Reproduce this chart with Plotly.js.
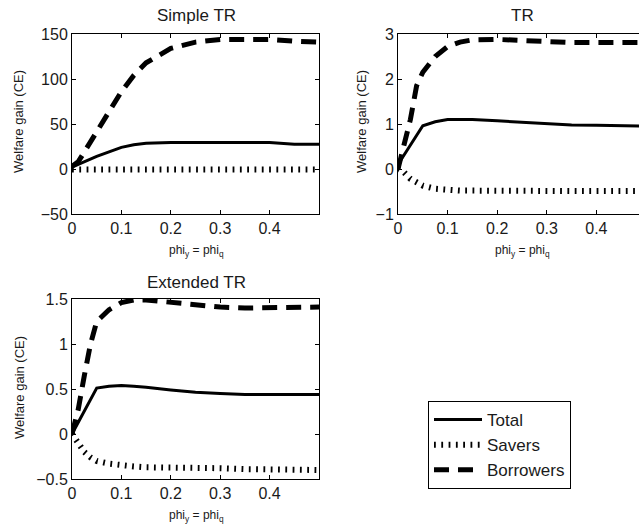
<!DOCTYPE html>
<html>
<head>
<meta charset="utf-8">
<script src="https://cdn.plot.ly/plotly-3.0.1.min.js"></script>
<style>
html,body{margin:0;padding:0;overflow:hidden;background:#fff;width:639px;height:529px;}
#chart{width:648px;height:529px;}
</style>
</head>
<body>
<div id="chart"></div>
<script>
// Shared x grid (phi_y = phi_q)
const phi = [0, 0.0125, 0.025, 0.0375, 0.05, 0.075, 0.1, 0.125, 0.15, 0.2, 0.25, 0.3, 0.35, 0.4, 0.45, 0.5];

// Simple TR
const simpleTotal     = [2, 5, 8, 11, 14, 19, 24, 27, 28.5, 29.5, 29.5, 29.5, 29.5, 29.5, 27.5, 27.5];
const simpleSavers    = [-0.5, -0.5, -0.5, -0.5, -0.5, -0.5, -0.5, -0.5, -0.5, -0.5, -0.5, -0.5, -0.5, -0.5, -0.5, -0.5];
const simpleBorrowers = [3, 8, 19, 30, 40, 63, 86, 104, 118, 134, 141, 144, 144, 144, 142, 141];

// TR
const trTotal     = [0.1, 0.31, 0.53, 0.74, 0.96, 1.05, 1.1, 1.1, 1.1, 1.07, 1.04, 1.02, 0.98, 0.97, 0.96, 0.95];
const trSavers    = [0, -0.08, -0.22, -0.31, -0.37, -0.44, -0.47, -0.48, -0.48, -0.49, -0.49, -0.49, -0.49, -0.49, -0.49, -0.49];
const trBorrowers = [0, 0.5, 1.1, 1.85, 2.15, 2.5, 2.72, 2.82, 2.87, 2.88, 2.86, 2.82, 2.81, 2.81, 2.81, 2.81];

// Extended TR
const extTotal     = [0, 0.13, 0.26, 0.39, 0.51, 0.53, 0.54, 0.53, 0.52, 0.49, 0.465, 0.45, 0.44, 0.44, 0.44, 0.44];
const extSavers    = [0, -0.1, -0.2, -0.26, -0.3, -0.33, -0.35, -0.36, -0.37, -0.37, -0.38, -0.38, -0.39, -0.39, -0.4, -0.4];
const extBorrowers = [0, 0.27, 0.65, 1.0, 1.25, 1.38, 1.46, 1.49, 1.49, 1.46, 1.43, 1.41, 1.4, 1.4, 1.4, 1.41];

// Ticks
const xTicks = [0, 0.1, 0.2, 0.3, 0.4];
const yTicks1 = [-50, 0, 50, 100, 150];
const yTicks2 = [-1, 0, 1, 2, 3];
const yTicks3 = [-0.5, 0, 0.5, 1, 1.5];

const names = ['Total', 'Savers', 'Borrowers'];
const panelTitles = ['Simple TR', 'TR', 'Extended TR'];
const xTitle = 'phi<sub>y</sub> = phi<sub>q</sub>';
const yTitle = 'Welfare gain (CE)';

const W = 648, H = 529;
const styles = [
  {color: '#000', width: 3, dash: 'solid'},
  {color: '#000', width: 6, dash: '1.8px,5.5px'},
  {color: '#000', width: 5, dash: '15px,9px'}
];

const panels = [
  {series: [simpleTotal, simpleSavers, simpleBorrowers], xa: 'x', ya: 'y'},
  {series: [trTotal, trSavers, trBorrowers], xa: 'x2', ya: 'y2'},
  {series: [extTotal, extSavers, extBorrowers], xa: 'x3', ya: 'y3'}
];

const traces = [];
panels.forEach((p, pi) => {
  p.series.forEach((s, si) => {
    traces.push({
      x: phi, y: s, type: 'scatter', mode: 'lines',
      name: names[si], legendgroup: names[si],
      showlegend: pi === 0,
      xaxis: p.xa, yaxis: p.ya,
      line: styles[si]
    });
  });
});

const font = 'Liberation Sans, Arial, sans-serif';
function xAxis(l, r, anchor) {
  return {
    domain: [l / W, r / W], range: [0, 0.5], anchor: anchor,
    tickvals: xTicks, ticks: 'inside', ticklen: 4, tickcolor: '#000',
    showline: true, linecolor: '#000', linewidth: 1, mirror: 'ticks',
    showgrid: false, zeroline: false,
    tickfont: {family: font, size: 16, color: '#1a1a1a'}
  };
}
function yAxis(t, b, range, ticks, anchor) {
  return {
    domain: [1 - b / H, 1 - t / H], range: range, anchor: anchor,
    tickvals: ticks, ticks: 'inside', ticklen: 4, tickcolor: '#000',
    showline: true, linecolor: '#000', linewidth: 1, mirror: 'ticks',
    showgrid: false, zeroline: false,
    tickfont: {family: font, size: 16, color: '#1a1a1a'}
  };
}

function ann(text, xpx, ypx, size, angle) {
  return {
    text: text, xref: 'paper', yref: 'paper',
    x: xpx / W, y: 1 - ypx / H, xanchor: 'center', yanchor: 'middle',
    showarrow: false, textangle: angle || 0,
    font: {family: font, size: size, color: '#1a1a1a'}
  };
}

const annotations = [
  ann(panelTitles[0], 196, 15, 17),
  ann(panelTitles[1], 522, 15, 17),
  ann(panelTitles[2], 196, 282, 17),
  ann(xTitle, 196, 251, 12),
  ann(xTitle, 522, 251, 12),
  ann(xTitle, 196, 516, 12),
  ann(yTitle, 19, 122, 13, -90),
  ann(yTitle, 362, 122, 13, -90),
  ann(yTitle, 19, 388, 13, -90)
];

const layout = {
  width: W, height: H,
  margin: {l: 0, r: 0, t: 0, b: 0},
  paper_bgcolor: '#fff', plot_bgcolor: '#fff',
  showlegend: true,
  legend: {
    x: 428 / W, y: 1 - 401 / H, xanchor: 'left', yanchor: 'top',
    bordercolor: '#000', borderwidth: 1, bgcolor: '#fff',
    font: {family: font, size: 17, color: '#1a1a1a'},
    itemwidth: 48,
    tracegroupgap: 0
  },
  xaxis: xAxis(72, 319, 'y'),
  yaxis: yAxis(34, 214, [-50, 150], yTicks1, 'x'),
  xaxis2: xAxis(398, 646, 'y2'),
  yaxis2: yAxis(34, 214, [-1, 3], yTicks2, 'x2'),
  xaxis3: xAxis(72, 319, 'y3'),
  yaxis3: yAxis(299, 479, [-0.5, 1.5], yTicks3, 'x3'),
  annotations: annotations
};

Plotly.newPlot('chart', traces, layout, {displayModeBar: false, staticPlot: true});
</script>
</body>
</html>
